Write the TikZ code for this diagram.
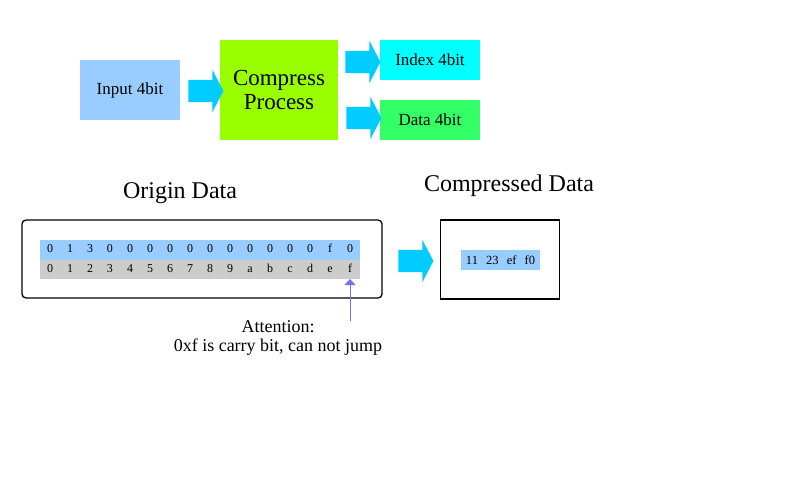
\documentclass[tikz,border=0pt]{standalone}
\usepackage{fontspec}
\setmainfont{Liberation Serif}[Ligatures=TeX]
\newfontfamily\timesfont{Liberation Serif}
\usetikzlibrary{matrix,shapes.arrows,arrows.meta}

\definecolor{inblue}{HTML}{99CCFF}
\definecolor{arrcyan}{HTML}{00CCFF}
\definecolor{procgreen}{HTML}{99FF00}
\definecolor{idxcyan}{HTML}{00FFFF}
\definecolor{datgreen}{HTML}{33FF66}
\definecolor{rowgray}{HTML}{CCCCCC}
\definecolor{pointblue}{HTML}{7070FF}

\tikzset{
  box/.style={inner sep=0pt, outer sep=0pt, anchor=center},
  barrow/.style={single arrow, fill=arrcyan, inner xsep=0pt, inner ysep=11pt,
    single arrow head extend=10pt, single arrow tip angle=125,
    minimum height=35pt, outer sep=0pt},
  title/.style={font=\timesfont\fontsize{24}{28}\selectfont},
}

\begin{document}
\begin{tikzpicture}[x=1pt,y=-1pt]
  \useasboundingbox (0,0) rectangle (800,500);
  % top flow
  \node[box, fill=inblue, minimum width=100, minimum height=60,
    font=\timesfont\fontsize{17}{20}\selectfont] (input) at (130,90) {Input 4bit};
  \node[box, fill=procgreen, minimum width=118, minimum height=100, align=center,
    font=\timesfont\fontsize{23}{24}\selectfont] (compress) at (279,90) {Compress\\Process};
  \node[box, fill=idxcyan, minimum width=100, minimum height=40,
    font=\timesfont\fontsize{17}{20}\selectfont] (index) at (430,60) {Index 4bit};
  \node[box, fill=datgreen, minimum width=100, minimum height=40,
    font=\timesfont\fontsize{17}{20}\selectfont] (data) at (430,120) {Data 4bit};
  \node[barrow] (a1) at (203,91) {};
  \node[barrow] (a2) at (360,62) {};
  \node[barrow] (a3) at (361,118) {};

  % origin data
  \node[title] (origtitle) at (180,193) {Origin Data};
  \node[box, draw, line width=1.3pt, rounded corners=4pt,
    minimum width=360, minimum height=78] (origin) at (202,259) {};
  \matrix (bits) [matrix of nodes, nodes in empty cells,
      nodes={minimum width=20pt, minimum height=19.5pt,
        outer sep=0pt, inner sep=0pt, anchor=center, text height=1.5ex,
        text depth=.25ex, font=\timesfont\fontsize{12}{14}\selectfont},
      column sep=0pt, row sep=0pt,
      row 1/.style={nodes={fill=inblue}},
      row 2/.style={nodes={fill=rowgray}}] at (200,259.5) {
    0 & 1 & 3 & 0 & 0 & 0 & 0 & 0 & 0 & 0 & 0 & 0 & 0 & 0 & f & 0 \\
    0 & 1 & 2 & 3 & 4 & 5 & 6 & 7 & 8 & 9 & a & b & c & d & e & f \\
  };
  \coordinate (tail) at (350,321);
  \draw[pointblue, line width=1pt, -{Triangle[length=6pt,width=11pt]}] (tail) -- (bits-2-16.south);
  \node[align=center, font=\timesfont\fontsize{18}{18.5}\selectfont] (note) at (278,338)
    {Attention:\\0xf is carry bit, can not jump};

  % compressed data
  \node[barrow] (a4) at (413,261) {};
  \node[title] (packtitle) at (509,186) {Compressed Data};
  \node[box, draw, line width=1.3pt, minimum width=119, minimum height=79] (packed) at (500,259.5) {};
  \node[box, fill=inblue, minimum width=79, minimum height=20,
    font=\timesfont\fontsize{12.5}{14}\selectfont] (packrow) at (500.5,260)
    {11\hspace{5pt} 23\hspace{5pt} ef\hspace{5pt} f0};
\end{tikzpicture}
\end{document}
